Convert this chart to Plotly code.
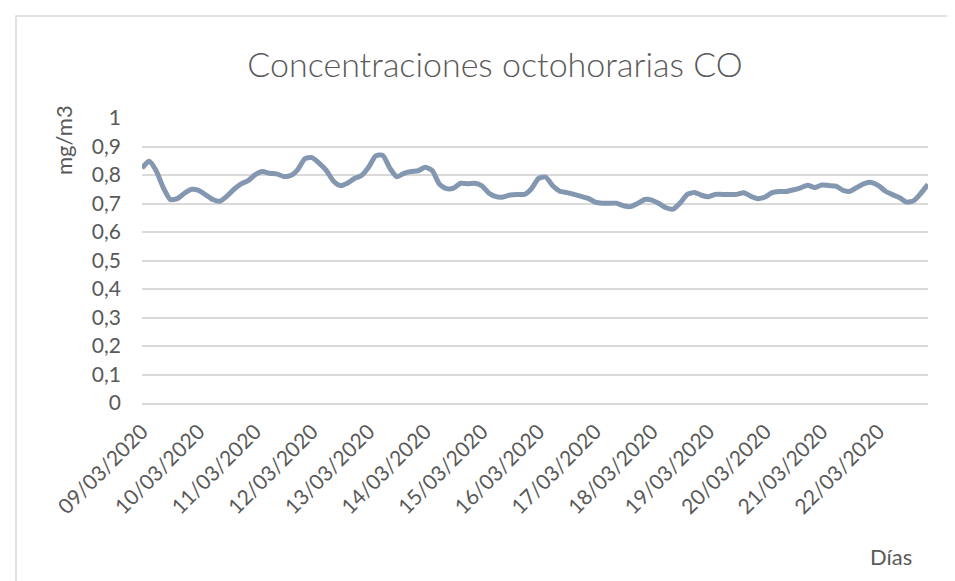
import plotly.graph_objects as go
import pandas as pd

# 8-hour CO concentrations (mg/m3), one reading every 3 hours starting 09/03/2020 00:00
start_time = "2020-03-09 00:00"
step_hours = 3
co_values = [
    0.824, 0.848, 0.815, 0.756, 0.714, 0.717, 0.736, 0.750,
    0.746, 0.730, 0.714, 0.708, 0.726, 0.750, 0.769, 0.780,
    0.801, 0.812, 0.806, 0.804, 0.795, 0.798, 0.819, 0.857,
    0.861, 0.842, 0.817, 0.780, 0.763, 0.771, 0.788, 0.798,
    0.827, 0.867, 0.869, 0.824, 0.794, 0.806, 0.812, 0.815,
    0.827, 0.815, 0.768, 0.752, 0.754, 0.771, 0.769, 0.771,
    0.762, 0.736, 0.724, 0.723, 0.730, 0.732, 0.732, 0.752,
    0.788, 0.793, 0.762, 0.743, 0.738, 0.732, 0.725, 0.718,
    0.705, 0.701, 0.701, 0.701, 0.692, 0.689, 0.700, 0.714,
    0.712, 0.700, 0.685, 0.680, 0.702, 0.732, 0.739, 0.729,
    0.724, 0.732, 0.732, 0.732, 0.732, 0.738, 0.725, 0.717,
    0.723, 0.738, 0.742, 0.742, 0.748, 0.755, 0.764, 0.756,
    0.765, 0.763, 0.761, 0.746, 0.743, 0.757, 0.770, 0.774,
    0.763, 0.743, 0.731, 0.720, 0.705, 0.710, 0.736, 0.767,
]
day_ticks = ["09/03/2020", "10/03/2020", "11/03/2020", "12/03/2020", "13/03/2020",
             "14/03/2020", "15/03/2020", "16/03/2020", "17/03/2020", "18/03/2020",
             "19/03/2020", "20/03/2020", "21/03/2020", "22/03/2020"]
y_ticks = [0, 0.1, 0.2, 0.3, 0.4, 0.5, 0.6, 0.7, 0.8, 0.9, 1]

times = pd.date_range(start_time, periods=len(co_values), freq=f"{step_hours}h")
tick_vals = pd.to_datetime(day_ticks, format="%d/%m/%Y")

FONT = "Lato, 'Open Sans', sans-serif"
GREY = "#595959"
GRID = "#d9d9d9"

fig = go.Figure()
fig.add_trace(go.Scatter(
    x=times, y=co_values, mode="lines",
    line=dict(color="#8497b0", width=5, shape="spline", smoothing=0.6),
    hoverinfo="x+y", showlegend=False,
))

W, H = 955, 581
L, R, T, B = 134, 35, 110, 186
pw, ph = W - L - R, H - T - B

def px_x(px):
    return (px - L) / pw

def px_y(py):
    return (H - B - py) / ph

fig.update_layout(
    width=W, height=H,
    margin=dict(l=L, r=R, t=T, b=B),
    paper_bgcolor="white", plot_bgcolor="white",
    separators=",.",
    font=dict(family=FONT, color=GREY, size=21),
    title=dict(text="Concentraciones octohorarias CO",
               font=dict(size=34, color=GREY, family=FONT, weight=300),
               xref="paper", x=px_x(487), xanchor="center",
               yref="container", y=1 - 57 / H, yanchor="middle"),
    xaxis=dict(
        type="date",
        range=[times[0], times[-1]],
        tickvals=tick_vals, ticktext=day_ticks,
        tickangle=-45, showgrid=False,
        showline=True, linecolor=GRID, linewidth=2,
        ticks="", ticklabelstandoff=6,
        tickfont=dict(size=21, color=GREY, family=FONT),
        fixedrange=True,
    ),
    yaxis=dict(
        range=[0, 1], tickvals=y_ticks,
        showgrid=True, gridcolor=GRID, gridwidth=2,
        zeroline=False, showline=False,
        ticks="", ticklabelstandoff=20,
        tickfont=dict(size=21, color=GREY, family=FONT),
        fixedrange=True,
    ),
    annotations=[
        dict(text="mg/m3", textangle=-90, xref="paper", yref="paper",
             x=px_x(55), y=px_y(132), xanchor="center", yanchor="middle",
             showarrow=False, font=dict(size=22, color=GREY, family=FONT)),
        dict(text="Días", xref="paper", yref="paper",
             x=px_x(883), y=px_y(548), xanchor="center", yanchor="middle",
             showarrow=False, font=dict(size=22, color=GREY, family=FONT)),
    ],
    shapes=[
        dict(type="rect", xref="paper", yref="paper",
             x0=px_x(8), x1=px_x(946), y0=px_y(574), y1=px_y(8),
             line=dict(color=GRID, width=1.5), fillcolor="rgba(0,0,0,0)", layer="below"),
    ],
)

fig.write_html("out.html")
